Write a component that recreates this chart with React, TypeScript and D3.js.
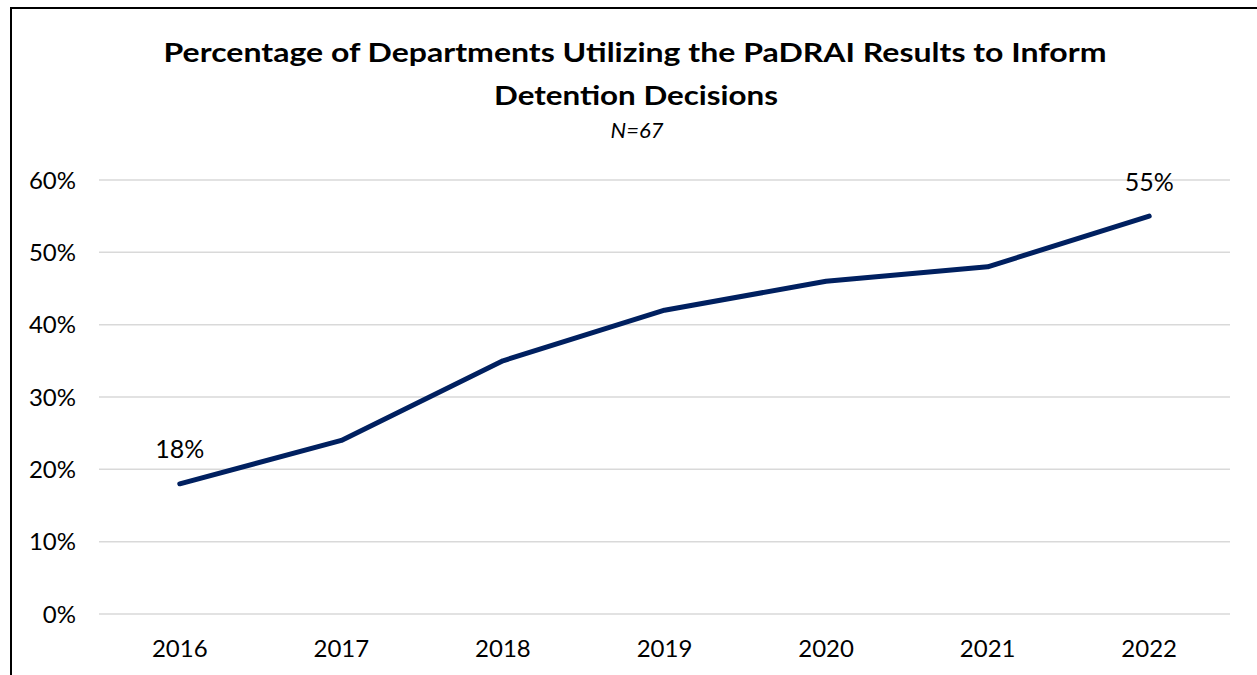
import * as d3 from "d3";

const years = ["2016", "2017", "2018", "2019", "2020", "2021", "2022"];
const pctValues = [18, 24, 35, 42, 46, 48, 55];
const yTicks = [0, 10, 20, 30, 40, 50, 60];
const labelledYears = ["2016", "2022"];

const WIDTH = 1257;
const HEIGHT = 675;
const FONT = "Lato, 'Open Sans', sans-serif";

export default function App() {
  const x = d3.scaleBand().domain(years).range([99, 1230]);
  const y = d3.scaleLinear().domain([0, 60]).range([614, 180]);
  const cx = (yr: string) => (x(yr) ?? 0) + x.bandwidth() / 2;

  const line = d3
    .line<number>()
    .x((_, i) => cx(years[i]))
    .y((d) => y(d));

  return (
    <svg
      width={WIDTH}
      height={HEIGHT}
      style={{ position: "absolute", left: 0, top: 0, background: "#fff" }}
      fontFamily={FONT}
    >
      {/* chart border, runs off the right and bottom edges */}
      <rect x={11} y={8} width={1270} height={700} fill="#fff" stroke="#000" strokeWidth={2} />

      {/* title */}
      <text x={635} y={62} textAnchor="middle" fontSize={27} fontWeight="bold" textLength={943} lengthAdjust="spacingAndGlyphs">
        Percentage of Departments Utilizing the PaDRAI Results to Inform
      </text>
      <text x={636} y={105} textAnchor="middle" fontSize={27} fontWeight="bold" textLength={284} lengthAdjust="spacingAndGlyphs">
        Detention Decisions
      </text>
      <text x={637} y={138} textAnchor="middle" fontSize={22} fontStyle="italic">
        N=67
      </text>

      {/* gridlines + y labels */}
      {yTicks.map((t) => (
        <g key={t}>
          <line x1={99} x2={1230} y1={y(t)} y2={y(t)} stroke="#d9d9d9" strokeWidth={1.5} />
          <text x={76} y={y(t) + 8.5} textAnchor="end" fontSize={24} fill="#000">
            {t}%
          </text>
        </g>
      ))}

      {/* x labels */}
      {years.map((yr) => (
        <text key={yr} x={cx(yr)} y={657} textAnchor="middle" fontSize={24} fill="#000">
          {yr}
        </text>
      ))}

      {/* series */}
      <path d={line(pctValues) ?? ""} fill="none" stroke="#002060" strokeWidth={5} strokeLinecap="round" strokeLinejoin="round" />

      {/* data labels at ends */}
      {years.map((yr, i) =>
        labelledYears.includes(yr) ? (
          <text key={yr} x={cx(yr)} y={y(pctValues[i]) - 25.5} textAnchor="middle" fontSize={25} fill="#000">
            {pctValues[i]}%
          </text>
        ) : null
      )}
    </svg>
  );
}
